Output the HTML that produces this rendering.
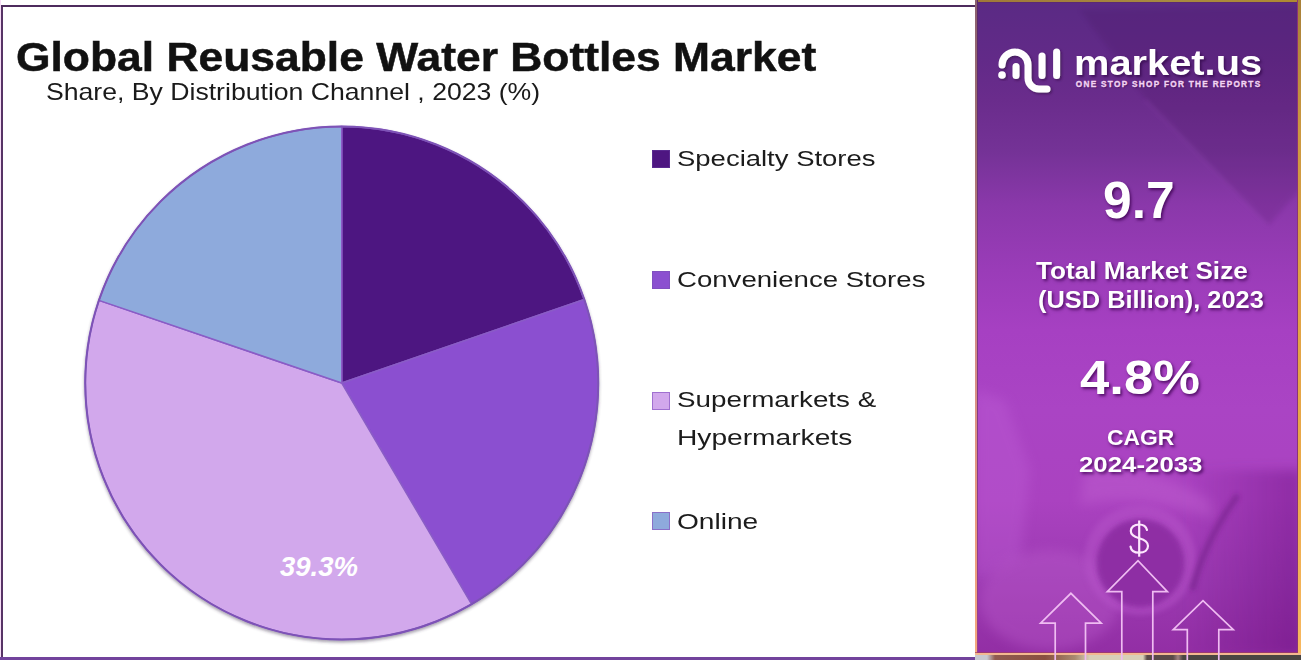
<!DOCTYPE html>
<html><head><meta charset="utf-8">
<style>
*{margin:0;padding:0;box-sizing:border-box}
html,body{width:1301px;height:660px;overflow:hidden;background:#fff}
body{position:relative;font-family:"Liberation Sans",sans-serif}
.a{position:absolute;white-space:nowrap;line-height:1}
#title{left:16px;top:37px;font-size:40px;font-weight:bold;color:#111;-webkit-text-stroke:0.5px #111;transform-origin:0 0;transform:scaleX(1.11)}
#sub{left:45.5px;top:80px;font-size:24px;color:#1a1a1a;transform-origin:0 0;transform:scaleX(1.109)}
.lg{position:absolute;left:652px;width:18px;height:18px}
.lt{position:absolute;left:676.5px;font-size:22px;color:#1c1c1c;white-space:nowrap;line-height:1;transform-origin:0 0}
#rp{position:absolute;left:975px;top:0;width:326px;height:660px;overflow:hidden}
.w{color:#fff;font-weight:bold;text-shadow:1.5px 1.5px 3px rgba(60,0,80,.8);transform-origin:0 0}
</style></head>
<body>
<!-- left panel borders -->
<div style="position:absolute;left:0;top:0;width:1px;height:660px;background:#f6dcf6"></div>
<div style="position:absolute;left:1px;top:5px;width:2px;height:655px;background:#573466"></div>
<div style="position:absolute;left:1px;top:5px;width:975px;height:2px;background:#4d2b5d"></div>
<div style="position:absolute;left:0;top:657px;width:976px;height:3px;background:#72439c"></div>

<div id="title" class="a">Global Reusable Water Bottles Market</div>
<div id="sub" class="a">Share, By Distribution Channel , 2023 (%)</div>

<svg style="position:absolute;left:0;top:0" width="975" height="660" viewBox="0 0 975 660">
  <defs><filter id="psh" x="-5%" y="-5%" width="110%" height="110%"><feDropShadow dx="0" dy="2" stdDeviation="1.5" flood-color="#403050" flood-opacity=".45"/></filter></defs>
  <g filter="url(#psh)">
  <g stroke="#8a5cc6" stroke-width="1.5" stroke-linejoin="round">
    <path d="M341.75 383 L341.75 126.5 A256.5 256.5 0 0 1 584.28 299.49 Z" fill="#4e1681"/>
    <path d="M341.75 383 L584.28 299.49 A256.5 256.5 0 0 1 471.55 604.23 Z" fill="#8b50d0"/>
    <path d="M341.75 383 L471.55 604.23 A256.5 256.5 0 0 1 98.93 300.34 Z" fill="#d2a8ec"/>
    <path d="M341.75 383 L98.93 300.34 A256.5 256.5 0 0 1 341.75 126.5 Z" fill="#8eaadc"/>
  </g>
  <circle cx="341.75" cy="383" r="256.5" fill="none" stroke="#7d52b6" stroke-width="2"/>
  </g>
  <text x="280" y="576" font-family="Liberation Sans" font-size="27.5" font-weight="bold" font-style="italic" fill="#fff">39.3%</text>
</svg>

<!-- legend -->
<div class="lg" style="top:150px;background:#4e1681;border:1px solid #5a2a90"></div>
<div class="lt" style="top:148.4px;transform:scaleX(1.249)">Specialty Stores</div>
<div class="lg" style="top:271px;background:#8b50d0;border:1px solid #8050c0"></div>
<div class="lt" style="top:269px;transform:scaleX(1.254)">Convenience Stores</div>
<div class="lg" style="top:392px;background:#d2a8ec;border:1px solid #a070d0"></div>
<div class="lt" style="top:388.6px;transform:scaleX(1.263)">Supermarkets &amp;</div>
<div class="lt" style="top:426.6px;transform:scaleX(1.28)">Hypermarkets</div>
<div class="lg" style="top:512px;background:#8eaadc;border:1px solid #8a70c8"></div>
<div class="lt" style="top:510.6px;transform:scaleX(1.277)">Online</div>

<!-- right panel -->
<div id="rp">
  <div style="position:absolute;left:0;top:0;width:326px;height:655px;background:linear-gradient(180deg,#5a2a84 0px,#622a88 60px,#6a2c8c 100px,#743296 150px,#8a38aa 205px,#9a3cb8 270px,#a640c2 330px,#aa44c4 410px,#aa42c0 500px,#9c3ab2 580px,#922ea4 655px)"></div>
  <svg style="position:absolute;left:0;top:0" width="326" height="655" viewBox="975 0 326 655">
    <defs>
      <filter id="bl" x="-50%" y="-50%" width="200%" height="200%"><feGaussianBlur stdDeviation="6"/></filter>
      <filter id="bl2" x="-50%" y="-50%" width="200%" height="200%"><feGaussianBlur stdDeviation="2.5"/></filter>
      <linearGradient id="rdk" x1="0" y1="0" x2="1" y2="0"><stop offset="0" stop-color="#5a1070" stop-opacity="0"/><stop offset="1" stop-color="#5a1070" stop-opacity=".35"/></linearGradient>
    </defs>
    <path d="M1080 10 L1301 6 L1301 188 L1268 226 L1150 105 Z" fill="#3a0850" opacity=".14" filter="url(#bl2)"/>
    <path d="M1145 100 L1268 226" stroke="#b060d0" stroke-width="3" opacity=".18" filter="url(#bl2)"/>
    <rect x="1180" y="470" width="121" height="185" fill="url(#rdk)" filter="url(#bl)"/>
    <path d="M975 390 L1005 400 L1030 470 L1020 560 L975 580 Z" fill="#c060d8" opacity=".35" filter="url(#bl)"/>
    <path d="M1085 470 Q1140 460 1210 500 L1215 520 Q1140 490 1080 505 Z" fill="#c060d0" opacity=".45" filter="url(#bl)"/>
    <ellipse cx="1050" cy="600" rx="70" ry="50" fill="#c060d0" opacity=".35" filter="url(#bl)"/>
    <ellipse cx="1140" cy="560" rx="56" ry="55" fill="#b552c8" opacity=".5" filter="url(#bl2)"/>
    <ellipse cx="1140.5" cy="563" rx="44" ry="44" fill="#8a2aa0" opacity=".85" filter="url(#bl2)"/>
    <path d="M1238 495 Q1205 540 1192 590" stroke="#6a1a80" stroke-width="6" fill="none" opacity=".5" filter="url(#bl2)"/>
  </svg>
  <!-- gold border -->
  <div style="position:absolute;left:0;top:0;width:326px;height:2px;background:linear-gradient(90deg,#a07838,#a88a40 60%,#b08a30)"></div>
  <div style="position:absolute;left:0;top:2px;width:326px;height:1px;background:#5a2a6a;opacity:.6"></div>
  <div style="position:absolute;left:-1px;top:0;width:1px;height:655px;background:linear-gradient(180deg,#7a5a66,#8a5a60 40%,#a06060 70%,#c08070)"></div>
  <div style="position:absolute;left:0;top:0;width:2px;height:655px;background:linear-gradient(180deg,#8a6070,#a07072 20%,#d08a88 50%,#e89a80 80%,#f4a880)"></div>
  <div style="position:absolute;left:2px;top:0;width:1px;height:655px;background:linear-gradient(180deg,#5a2a6a,#7a3a80 50%,#9a4090)"></div>
  <div style="position:absolute;left:322px;top:0;width:1px;height:655px;background:#8a3478"></div>
  <div style="position:absolute;left:323px;top:0;width:3px;height:655px;background:linear-gradient(180deg,#a88038,#cc9840 20%,#e0a244 45%,#eaa848 70%,#f8b860)"></div>
  <div style="position:absolute;left:0;top:652px;width:323px;height:1px;background:#a04060;opacity:.7"></div>
  <div style="position:absolute;left:0;top:653px;width:326px;height:2px;background:#f4b890"></div>
  <div style="position:absolute;left:0;top:655px;width:326px;height:5px;background:linear-gradient(90deg,#c8c8d0 0px,#c8c8d0 12px,#905a50 20px,#8a5040 70px,#a88a70 100px,#d8d0b8 115px,#d8d0b8 168px,#5a4a48 172px,#5a4a48 198px,#a08080 203px,#4a4642 208px,#4a4642 326px)"></div>

  <svg style="position:absolute;left:0;top:0" width="326" height="660" viewBox="975 0 326 660">
    <defs><filter id="lsh" x="-20%" y="-20%" width="140%" height="140%"><feDropShadow dx="1.5" dy="1.5" stdDeviation="1.2" flood-color="#30083f" flood-opacity=".6"/></filter></defs>
    <g fill="none" stroke="#fff" stroke-width="7" stroke-linecap="round" filter="url(#lsh)">
      <path d="M1002 65 A13 13 0 0 1 1028 65 L1028 78 A11 11 0 0 0 1039 89 L1047 89"/>
      <path d="M1016 66.5 L1016 75.5"/>
      <path d="M1042 56 L1042 75.5"/>
      <path d="M1056.6 52 L1056.6 75.5"/>
    </g>
    <circle cx="1002" cy="75" r="3.8" fill="#fff" filter="url(#lsh)"/>
    <g fill="none" stroke="#fde6fd" stroke-width="2.2" stroke-linecap="round">
      <path d="M1147 530 C1146 526 1143 524.5 1139.2 524.5 C1134 524.5 1130.8 527.5 1130.8 531 C1130.8 535 1134 536.8 1139.2 538.3 C1145 540 1148 542 1148 546 C1148 550 1144.5 552.7 1139.2 552.7 C1134 552.7 1131 550 1130.5 546.5"/>
      <path d="M1139.2 520.5 L1139.2 556.7" stroke-linecap="butt"/>
    </g>
    <g fill="none" stroke="#efbcf2" stroke-width="1.7">
      <path d="M1055.2 660 L1055.2 623.2 L1040.6 623.2 L1070.9 593.3 L1101.2 623.2 L1085.5 623.2 L1085.5 660"/>
      <path d="M1121.8 660 L1121.8 591.6 L1107.3 591.6 L1138 560.6 L1167.4 591.6 L1152.8 591.6 L1152.8 660"/>
      <path d="M1187.3 660 L1187.3 629.7 L1173.2 629.7 L1203 600.6 L1233.3 629.7 L1218.8 629.7 L1218.8 660"/>
    </g>
  </svg>
  <div class="a" style="left:98.6px;top:45.7px;font-size:35.9px;font-weight:bold;color:#fff;transform-origin:0 0;transform:scaleX(1.1096);text-shadow:1.5px 1.5px 2.5px rgba(40,0,60,.6)">market.us</div>
  <div class="a" style="left:100.8px;top:80.6px;font-size:8.22px;font-weight:bold;color:#f3d3f3;letter-spacing:1.3px;-webkit-text-stroke:0.35px #f3d3f3;text-shadow:1px 1px 1.5px rgba(40,0,60,.6)">ONE STOP SHOP FOR THE REPORTS</div>

  <div class="a w" style="left:128.4px;top:175.8px;font-size:50.9px;transform:scaleX(1.0134)">9.7</div>
  <div class="a w" style="left:61.4px;top:259.6px;font-size:23.5px;transform:scaleX(1.1132)">Total Market Size</div>
  <div class="a w" style="left:63.4px;top:289.3px;font-size:23.5px;transform:scaleX(1.0807)">(USD Billion), 2023</div>
  <div class="a w" style="left:104.7px;top:353.1px;font-size:48.24px;transform:scaleX(1.0907)">4.8%</div>
  <div class="a w" style="left:132.1px;top:427.8px;font-size:21.24px;transform:scaleX(1.077)">CAGR</div>
  <div class="a w" style="left:104px;top:453.5px;font-size:21.65px;transform:scaleX(1.1931)">2024-2033</div>
</div>
</body></html>
